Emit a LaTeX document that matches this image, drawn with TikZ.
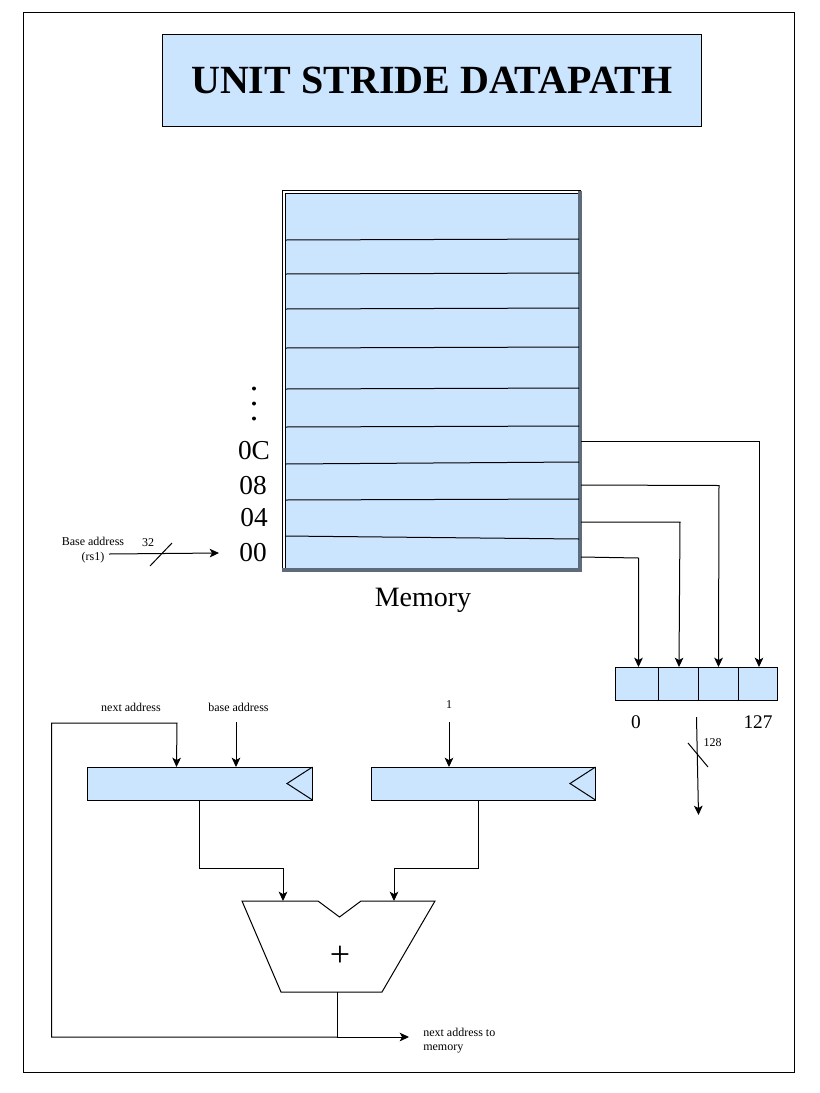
\documentclass[tikz,border=0pt]{standalone}
\usepackage{fontspec}
\setmainfont{Liberation Serif}
\usetikzlibrary{arrows.meta}
\definecolor{cellblue}{HTML}{CCE5FF}
\definecolor{edgegrey}{HTML}{5E6B7A}
\tikzset{
  wire/.style={draw=black,line width=0.75pt},
  arrowwire/.style={wire,-{Stealth[length=7pt,width=6.5pt,inset=1.8pt]}},
  cell/.style={draw=black,line width=0.75pt,fill=cellblue},
  small/.style={inner sep=0pt,font=\fontsize{9}{11}\selectfont,align=center},
  tiny/.style={inner sep=0pt,font=\fontsize{9}{10.5}\selectfont,align=center},
  addr/.style={inner sep=0pt,font=\fontsize{20.5}{22}\selectfont},
  mid/.style={inner sep=0pt,font=\fontsize{14.5}{16}\selectfont},
  dot/.style={circle,fill=black,inner sep=0pt,minimum size=3pt},
  box/.style={cell,inner sep=0pt,minimum width=#1*0.75pt,minimum height=33*0.75pt}
}
\begin{document}
\begin{tikzpicture}[x=0.75pt,y=-0.75pt]
\useasboundingbox (0,0) rectangle (820,1093);
\node[draw=black,line width=0.75pt,inner sep=0pt,minimum width=771*0.75pt,minimum height=1060*0.75pt] (frame) at (409,542.5) {};
\node[cell,inner sep=0pt,minimum width=539*0.75pt,minimum height=92*0.75pt,font=\bfseries\fontsize{30}{32}\selectfont] (title) at (432,80.5) {\raisebox{-0.75pt}{UNIT STRIDE DATAPATH}};
% memory
\node[draw=black,line width=0.75pt,inner sep=0pt,minimum width=298*0.75pt,minimum height=380*0.75pt] (memout) at (431.5,380.5) {};
\node[draw=black,fill=cellblue,line width=0.75pt,inner sep=0pt,minimum width=294*0.75pt,minimum height=376*0.75pt] (mem) at (432,381) {};
\draw[edgegrey,line width=2.4pt] (282,570) -- (580,570) -- (580,191);
\foreach \a/\b in {240/239,274/273,309/308,348/347,389/388,427/426,464/462,500/499,536/539}{
  \draw[wire] (285,\a) -- (579,\b);
}
\node[inner sep=0pt,font=\fontsize{21}{23}\selectfont] (memlabel) at (423,600) {Memory};
\node[addr] (a0c) at (254,451) {0C};
\node[addr] (a08) at (253,486) {08};
\node[addr] (a04) at (254,518) {04};
\node[addr] (a00) at (253,553) {00};
\node[dot] (d1) at (254,388.5) {};
\node[dot] (d2) at (254,403.5) {};
\node[dot] (d3) at (254,418.5) {};
% base address input
\node[small] (base) at (93,550) {Base address\\(rs1)};
\coordinate (basestart) at (109,554);
\coordinate (baseend) at (219,553);
\draw[arrowwire] (basestart) -- (baseend);
\node[small] (w32) at (148,543) {32};
\coordinate (s1a) at (150,566); \coordinate (s1b) at (172,543);
\draw[wire] (s1a) -- (s1b);
% output register
\node[box=43] (r0) at (636.5,684) {};
\node[box=40] (r1) at (678,684) {};
\node[box=40] (r2) at (718,684) {};
\node[box=39] (r3) at (757.5,684) {};
\coordinate (m3) at (581,441); \coordinate (m2) at (581,485); \coordinate (m1) at (581,522); \coordinate (m0) at (581,557);
\draw[arrowwire] (m3) -- (759,441) -- (759,667);
\draw[arrowwire] (m2) -- (719,485.5) -- (718.5,667);
\draw[arrowwire] (m1) -- (680,522) -- (679,667);
\draw[arrowwire] (m0) -- (638.5,558) -- (638.5,667);
\node[mid] (l0) at (636,722) {0};
\node[mid] (l127) at (758,722) {127};
\coordinate (o1) at (696.5,717); \coordinate (o2) at (698.5,815);
\draw[arrowwire] (o1) -- (o2);
\coordinate (s2a) at (688,743); \coordinate (s2b) at (708,767);
\draw[wire] (s2a) -- (s2b);
\node[tiny] (w128) at (712.5,743) {128};
% address registers
\node[cell,inner sep=0pt,minimum width=225*0.75pt,minimum height=33*0.75pt] (ra) at (200,784) {};
\node[cell,inner sep=0pt,minimum width=224*0.75pt,minimum height=33*0.75pt] (rb) at (483.5,784) {};
\draw[wire] (312.5,767) -- (287,783.5) -- (312.5,800);
\draw[wire] (595.5,767) -- (570,783.5) -- (595.5,800);
\node[tiny] (next) at (131,707) {next address};
\node[tiny] (baseb) at (238.5,707) {base address};
\node[tiny] (one) at (449,705) {1};
\coordinate (bs) at (236,722); \coordinate (os) at (449,722);
\draw[arrowwire] (bs) -- (236,767);
\draw[arrowwire] (os) -- (449,767);
% adder
\draw[wire,line join=miter] (242,901) -- (318,901) -- (339.5,917) -- (361,901) -- (435,901) -- (382,992) -- (281,992) -- cycle;
\node[inner sep=0pt,font=\fontsize{27}{27}\selectfont] (plus) at (340,956) {+};
\draw[arrowwire] (199,801) -- (199,868) -- (283,868) -- (283,901);
\draw[arrowwire] (478,801) -- (478,868) -- (394,868) -- (394,901);
\coordinate (sum) at (337,992); \coordinate (j) at (337,1037);
\draw[wire] (sum) -- (j);
\draw[arrowwire] (j) -- (409,1037);
\draw[arrowwire] (j) -- (51.5,1037) -- (51.5,723) -- (177,723) -- (176.5,767);
\node[tiny,align=left,anchor=west] (nam) at (423,1041) {next address to\\memory};
\end{tikzpicture}
\end{document}
